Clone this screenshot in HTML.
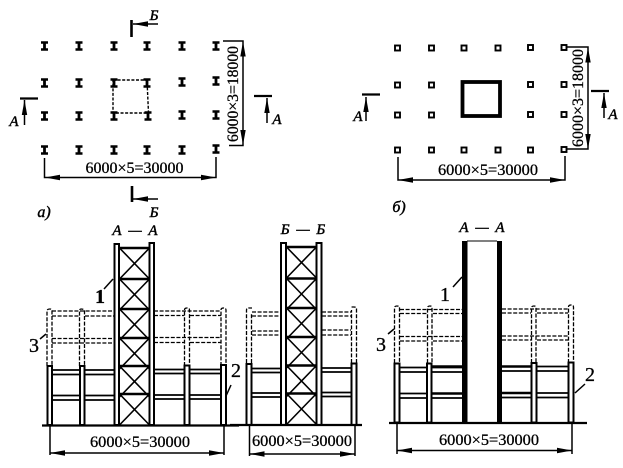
<!DOCTYPE html>
<html><head><meta charset="utf-8"><style>
html,body{margin:0;padding:0;background:#fff}
svg{display:block}
text{font-family:"Liberation Serif",serif;fill:#000;stroke:#000;stroke-width:.3}
.d{font-size:16px;text-anchor:middle}
.i{font-size:15px;font-style:italic;text-anchor:middle;stroke-width:.45}
.n{font-size:20px;text-anchor:middle}
.t{stroke:#000;stroke-width:1.5;fill:none}
.b{stroke:#000;stroke-width:2.6;fill:none}
.ds{stroke:#000;stroke-width:1.300;fill:none;stroke-dasharray:4 1.6}
.c{fill:#fff;stroke:#000;stroke-width:2}
.s{fill:#fff;stroke:#000;stroke-width:1.900}
</style></head><body>
<svg width="623" height="468" viewBox="0 0 623 468" xmlns="http://www.w3.org/2000/svg">
<defs>
<g id="ib"><path d="M-3.500 -3.500H3.500M-3.500 3.500H3.500" stroke="#000" stroke-width="2.400" fill="none"/><path d="M0 -3.500V3.500" stroke="#000" stroke-width="2.800"/></g>
<rect id="sq" class="s" x="-2.500" y="-2.500" width="5" height="5"/>
<path id="ah" d="M0 0L-15 -2.700L-15 2.700Z" fill="#000"/>
<g id="xx"><path d="M0 0L30 31M30 0L0 31" stroke="#000" stroke-width="1.600"/><path d="M0 0H30" stroke="#000" stroke-width="2.400"/></g>
</defs>

<!-- PLAN A -->
<g>
<use href="#ib" x="44.500" y="46"/><use href="#ib" x="79" y="46"/><use href="#ib" x="114" y="46"/><use href="#ib" x="147" y="46"/><use href="#ib" x="182" y="46"/><use href="#ib" x="216" y="46"/>
<use href="#ib" x="44.500" y="83"/><use href="#ib" x="79" y="83"/><use href="#ib" x="114" y="83"/><use href="#ib" x="147" y="83"/><use href="#ib" x="182" y="82"/><use href="#ib" x="216" y="81"/>
<use href="#ib" x="44.500" y="116"/><use href="#ib" x="79" y="116"/><use href="#ib" x="114" y="116"/><use href="#ib" x="148" y="116"/><use href="#ib" x="182" y="115"/><use href="#ib" x="216" y="115"/>
<use href="#ib" x="44.500" y="150"/><use href="#ib" x="79" y="150"/><use href="#ib" x="114" y="150"/><use href="#ib" x="147" y="150"/><use href="#ib" x="182" y="150"/><use href="#ib" x="216" y="149"/>
<path d="M113 80H147L148.500 113H113Z" fill="none" stroke="#000" stroke-width="1.400" stroke-dasharray="3 1.600"/>
<path class="b" d="M131.500 20V37"/><path class="t" d="M133 24H158"/><use href="#ah" transform="translate(133 24) rotate(180)"/>
<text class="i" x="154" y="20">Б</text>
<path class="b" d="M132 186V202"/><path class="t" d="M133 199H158"/><use href="#ah" transform="translate(133 199) rotate(180)"/>
<text class="i" x="154" y="217">Б</text>
<path d="M20 98.500H38" stroke="#000" stroke-width="2.200"/><path class="t" d="M24.500 125V100"/><use href="#ah" transform="translate(24.500 100) rotate(-90)"/>
<text class="i" x="14" y="126">А</text>
<path d="M254 96H272" stroke="#000" stroke-width="2.200"/><path class="t" d="M267 123V98"/><use href="#ah" transform="translate(267 98) rotate(-90)"/>
<text class="i" x="277" y="124">А</text>
<path class="t" d="M223 41H243V145.500H229"/><use href="#ah" transform="translate(243 41.500) rotate(-90)"/><use href="#ah" transform="translate(243 145) rotate(90)"/>
<text class="d" transform="translate(238 94) rotate(-90)" textLength="96" lengthAdjust="spacingAndGlyphs">6000×3=18000</text>
<path class="t" d="M44.500 158V177.500H216V157"/><use href="#ah" transform="translate(45 177.500) rotate(180)"/><use href="#ah" transform="translate(216 177.500)"/>
<text class="d" x="134.500" y="173" textLength="98" lengthAdjust="spacingAndGlyphs">6000×5=30000</text>
<text class="i" x="44" y="217" style="font-size:16px">а)</text>
</g>

<!-- PLAN B -->
<g>
<use href="#sq" x="397.500" y="48"/><use href="#sq" x="431.500" y="48"/><use href="#sq" x="464" y="48"/><use href="#sq" x="498" y="48"/><use href="#sq" x="530.500" y="47.500"/><use href="#sq" x="564" y="47.500"/>
<use href="#sq" x="397.500" y="85"/><use href="#sq" x="431.500" y="85"/><use href="#sq" x="530.500" y="84.500"/><use href="#sq" x="564" y="84.500"/>
<use href="#sq" x="397.500" y="115"/><use href="#sq" x="431.500" y="115"/><use href="#sq" x="530.500" y="114.500"/><use href="#sq" x="564" y="114.500"/>
<use href="#sq" x="397.500" y="150"/><use href="#sq" x="431.500" y="150"/><use href="#sq" x="464" y="150"/><use href="#sq" x="498" y="150"/><use href="#sq" x="530.500" y="150"/><use href="#sq" x="564" y="149.500"/>
<rect x="462.500" y="82" width="37.500" height="34" fill="none" stroke="#000" stroke-width="3.800"/>
<path d="M362 94.500H380" stroke="#000" stroke-width="2.200"/><path class="t" d="M366 121V97"/><use href="#ah" transform="translate(366 97) rotate(-90)"/>
<text class="i" x="358" y="121">А</text>
<path d="M591 91H609" stroke="#000" stroke-width="2.200"/><path class="t" d="M604 118V93"/><use href="#ah" transform="translate(604 93) rotate(-90)"/>
<text class="i" x="613" y="119">А</text>
<path class="t" d="M567 47H588V149H567"/><use href="#ah" transform="translate(588 47.500) rotate(-90)"/><use href="#ah" transform="translate(588 149) rotate(90)"/>
<text class="d" transform="translate(583 98) rotate(-90)" textLength="98" lengthAdjust="spacingAndGlyphs">6000×3=18000</text>
<path class="t" d="M398 157V180H565V156"/><use href="#ah" transform="translate(398 180) rotate(180)"/><use href="#ah" transform="translate(565 180)"/>
<text class="d" x="488" y="175" textLength="100" lengthAdjust="spacingAndGlyphs">6000×5=30000</text>
<text class="i" x="399" y="212" style="font-size:16px">б)</text>
</g>

<!-- SECTION A-A left -->
<g>
<text class="i" x="135" y="235" style="word-spacing:3px">А — А</text>
<path class="ds" d="M47 366V311Q47 309 50 309Q52 309 52 311V366M79.500 366V311Q79.500 309 81 309Q84.500 309 84.500 311V366M184.500 366V310Q184.500 308 187 308Q189.500 308 189.500 310V366M221 366V310Q221 308 223.500 308Q226 308 226 310V366"/>
<path class="ds" d="M52 311H114M52 316H79M85 316H114M52 338.500H114M52 343H114M154 311H221M154 315.500H184M190 315.500H221M154 337.500H221M154 342.500H184M190 342.500H221"/>
<path d="M52 370H114M52 374.500H114M52 395.500H114M52 400H114M154 369.500H221M154 373.500H221M154 395H221M154 399H221" stroke="#000" stroke-width="1.700" fill="none"/>
<rect class="c" x="47.500" y="366" width="4.500" height="59"/><rect class="c" x="80" y="366" width="4.500" height="59"/><rect class="c" x="184.500" y="365.500" width="5" height="59.500"/><rect class="c" x="221" y="365" width="5" height="60"/>
<use href="#xx" x="119.500" y="248"/><use href="#xx" x="119.500" y="279"/>
<use href="#xx" x="119.500" y="309"/><use href="#xx" x="119.500" y="338"/>
<use href="#xx" x="119.500" y="366"/><use href="#xx" x="119.500" y="394"/>
<rect class="c" x="114.500" y="244" width="4.500" height="181"/><rect class="c" x="149.500" y="243" width="4.500" height="182"/>
<path d="M42 425.500H239" stroke="#000" stroke-width="2.200"/>
<path class="t" d="M50 426V455M224 426V455M50 453H224"/><use href="#ah" transform="translate(50 453) rotate(180)"/><use href="#ah" transform="translate(224 453)"/>
<text class="d" x="140" y="447" textLength="100" lengthAdjust="spacingAndGlyphs">6000×5=30000</text>
<text class="n" x="100" y="303" style="font-weight:bold">1</text><path class="t" d="M104 289L113 279"/>
<text class="n" x="34" y="352">3</text><path class="t" d="M40 339L46 334"/>
<text class="n" x="236" y="377">2</text><path class="t" d="M226 396L231 385"/>
</g>

<!-- SECTION B-B -->
<g>
<text class="i" x="303" y="234" style="word-spacing:3px">Б — Б</text>
<path class="ds" d="M246.500 363V310Q246.500 308 249 308H252M251.500 363V314M351.500 363V310M356.500 363V309Q356.500 307 354 307H351"/>
<path class="ds" d="M252 312H281M252 316H281M252 331H281M252 335H281M322 312H351M322 316H351M322 330H351M322 335H351"/>
<path d="M252 368.500H281M252 372.500H281M252 393H281M252 397H281M322 368H351M322 372H351M322 392.500H351M322 396.500H351" stroke="#000" stroke-width="1.700" fill="none"/>
<rect class="c" x="246.500" y="364" width="5" height="61"/><rect class="c" x="351.500" y="363.500" width="5" height="61.500"/>
<use href="#xx" x="286.500" y="247"/><use href="#xx" x="286.500" y="278.500"/>
<use href="#xx" x="286.500" y="308"/><use href="#xx" x="286.500" y="337"/>
<use href="#xx" x="286.500" y="365.500"/><use href="#xx" x="286.500" y="393.500"/>
<rect class="c" x="281" y="243" width="5" height="182"/><rect class="c" x="316.500" y="243" width="5" height="182"/>
<path d="M230 425H362" stroke="#000" stroke-width="2.200"/>
<path class="t" d="M249.500 426V456M355 426V456M249.500 454H355"/><use href="#ah" transform="translate(249.500 454) rotate(180)"/><use href="#ah" transform="translate(355 454)"/>
<text class="d" x="302" y="446" textLength="100" lengthAdjust="spacingAndGlyphs">6000×5=30000</text>
</g>

<!-- SECTION A-A right -->
<g>
<text class="i" x="482" y="232" style="word-spacing:3px">А — А</text>
<path class="ds" d="M394.500 363V308Q394.500 306 397 306Q399.500 306 399.500 308V363M427.500 363V308Q427.500 306 430 306Q432 306 432 308V363M531.500 363V308Q531.500 306 534 306Q536 306 536 308V363M568.500 363V307Q568.500 305 571 305Q573.500 305 573.500 307V363"/>
<path class="ds" d="M400 309.500H462M400 313.500H427M433 313.500H462M400 336.500H462M400 341H427M433 341H462M502 309H568M502 313H531M537 313H568M502 336H568M502 340H531M537 340H568"/>
<path d="M400 367.500H462M400 372H462M400 393.500H462M400 398H462M502 366.500H568M502 371H568M502 393H568M502 397.500H568" stroke="#000" stroke-width="1.700" fill="none"/>
<path d="M432 366.500H462M432 393.500H462M502 366.500H531M502 393H531" stroke="#000" stroke-width="2.400" fill="none"/>
<rect class="c" x="394.500" y="363.500" width="5" height="59"/><rect class="c" x="427" y="363.500" width="4.500" height="59"/><rect class="c" x="531.500" y="363" width="5" height="59.500"/><rect class="c" x="568.500" y="362.500" width="5" height="60"/>
<rect x="462" y="241" width="5.500" height="182" fill="#000"/><rect x="497" y="241" width="5" height="182" fill="#000"/>
<path d="M467 241H497" stroke="#000" stroke-width="1"/>
<path d="M389 423H587" stroke="#000" stroke-width="2.200"/>
<path class="t" d="M397 424V454M572 424V454M397 450.500H572"/><use href="#ah" transform="translate(397 450.500) rotate(180)"/><use href="#ah" transform="translate(572 450.500)"/>
<text class="d" x="489" y="445" textLength="100" lengthAdjust="spacingAndGlyphs">6000×5=30000</text>
<text class="n" x="445" y="301">1</text><path class="t" d="M453 287L462 277"/>
<text class="n" x="381" y="351">3</text><path class="t" d="M388 334L394 329"/>
<text class="n" x="590" y="381">2</text><path class="t" d="M575 393L585 384"/>
</g>
</svg>
</body></html>
